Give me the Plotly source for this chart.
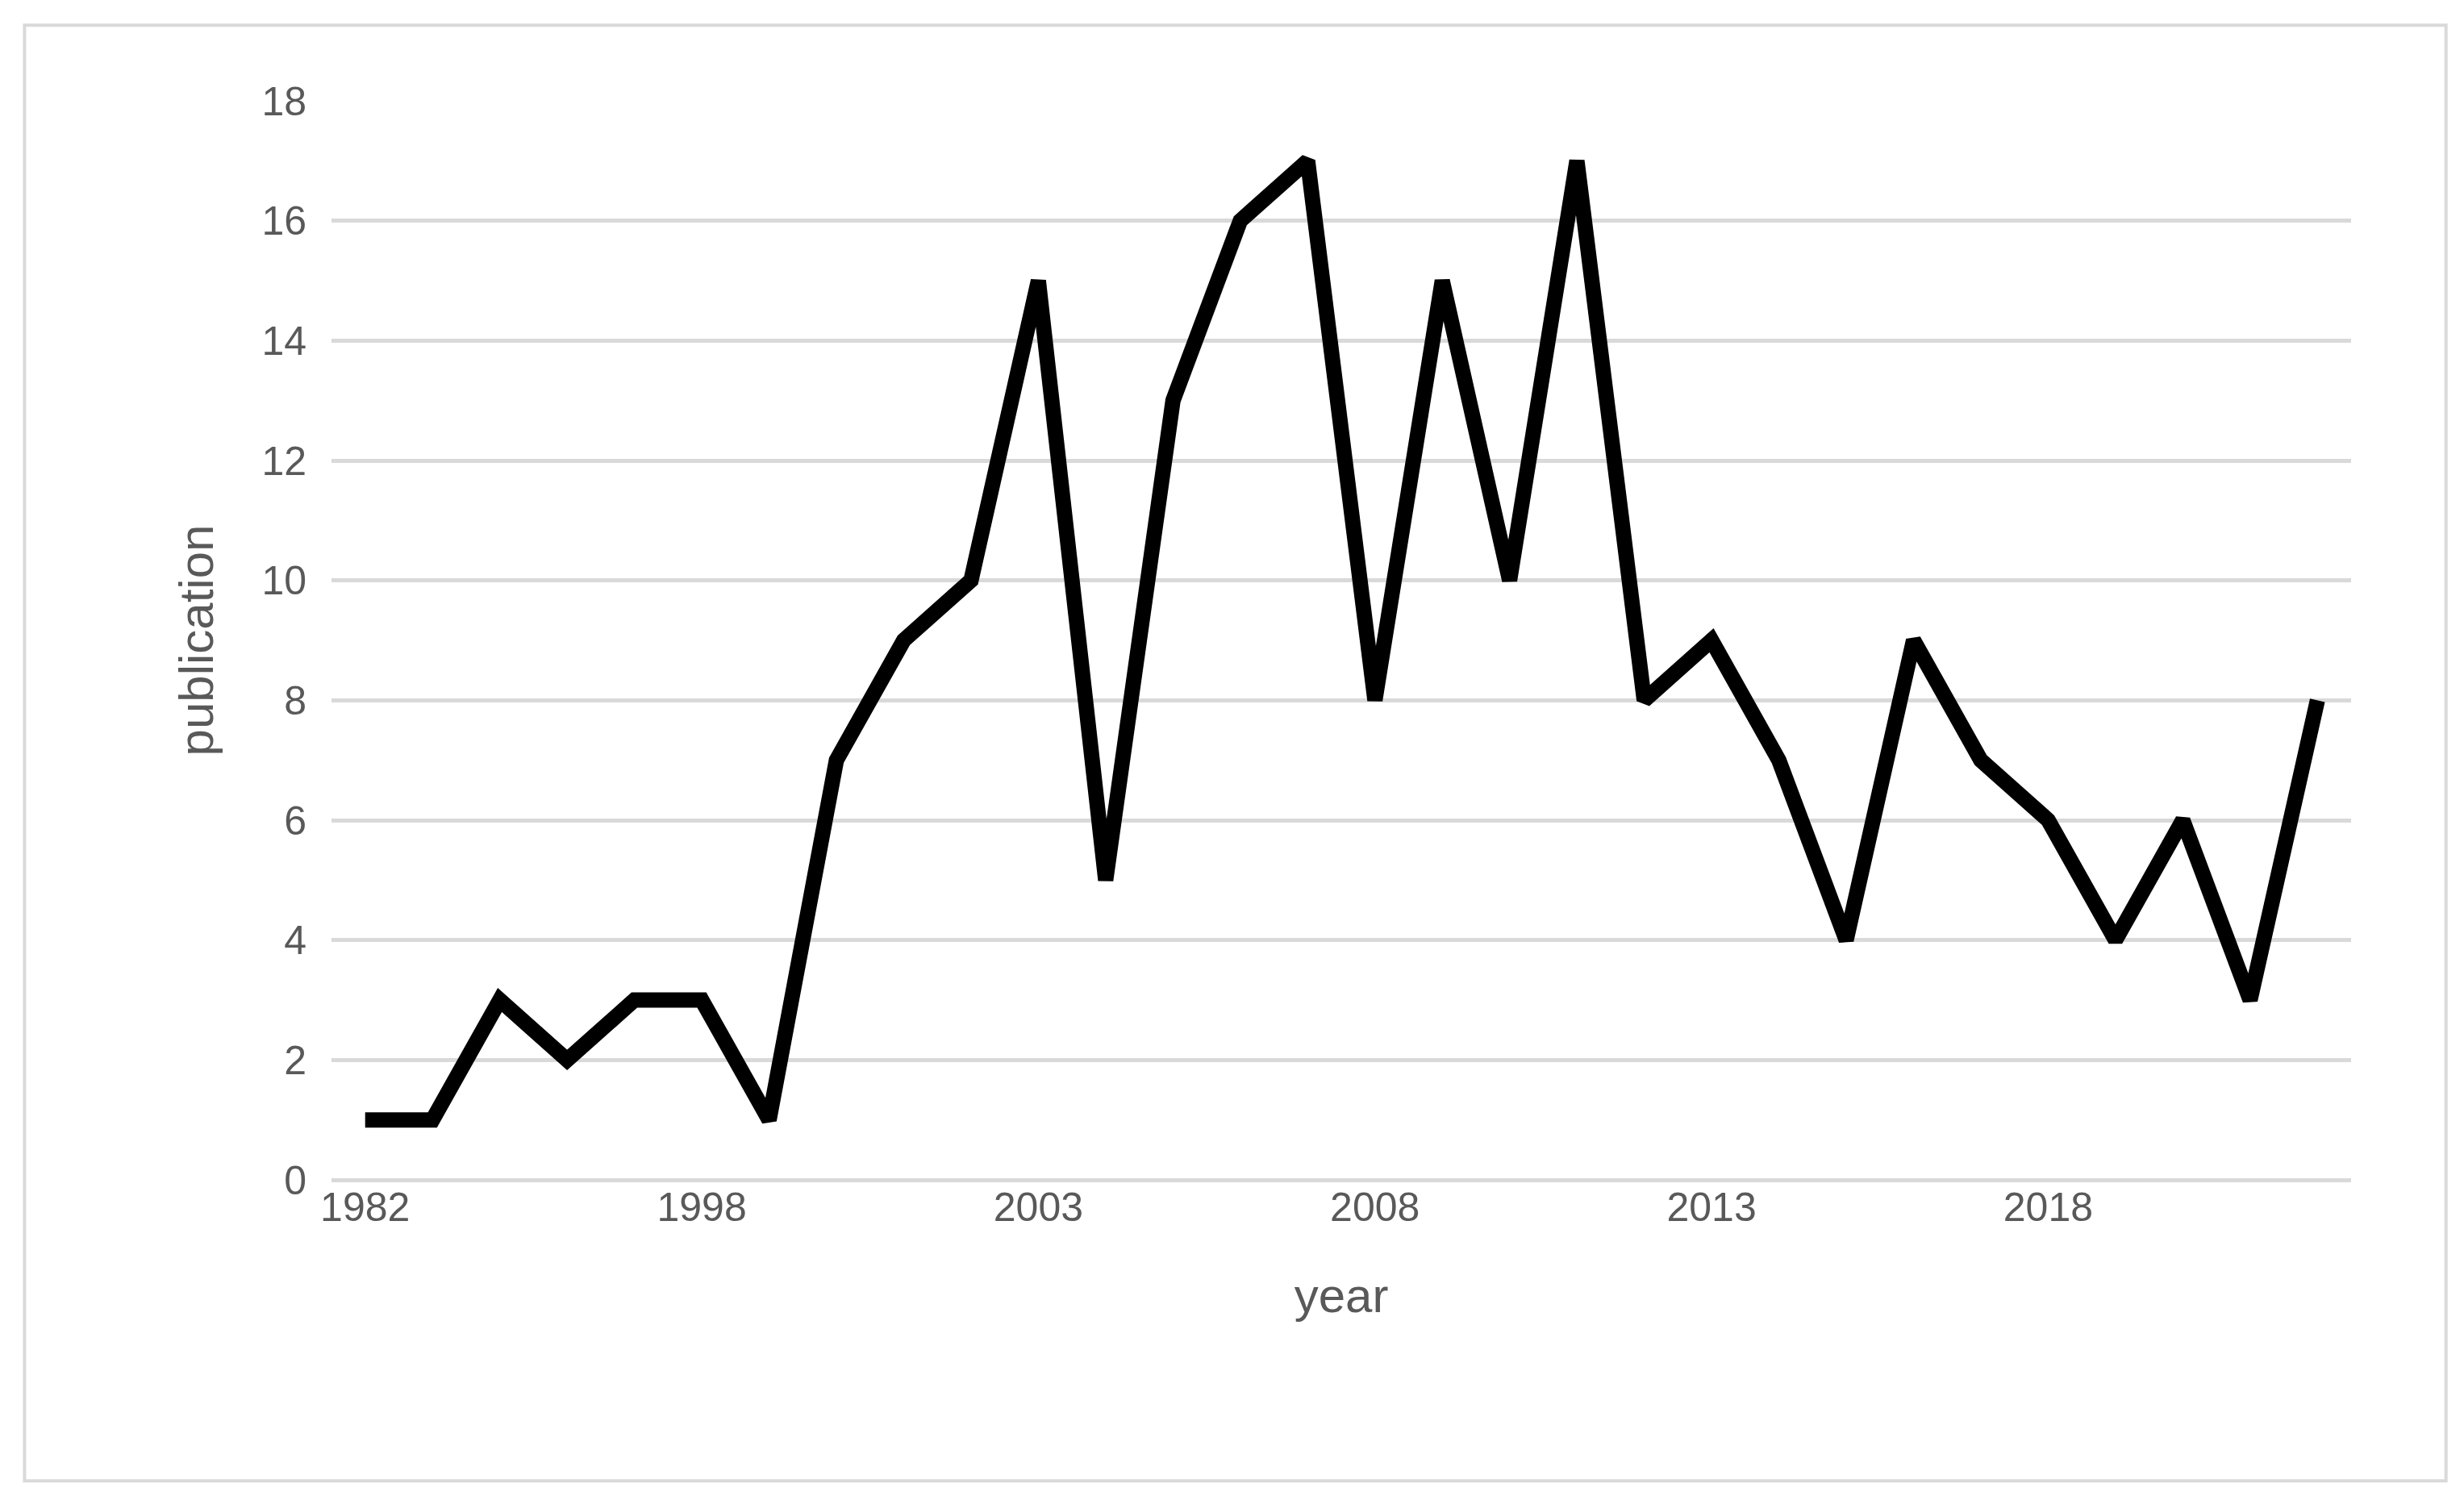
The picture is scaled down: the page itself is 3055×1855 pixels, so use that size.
import plotly.graph_objects as go

years = ["1982", "1986", "1990", "1993", "1995", "1998", "1999", "2000", "2001", "2002",
         "2003", "2004", "2005", "2006", "2007", "2008", "2009", "2010", "2011", "2012",
         "2013", "2014", "2015", "2016", "2017", "2018", "2019", "2020", "2021", "2022"]
publications = [1, 1, 3, 2, 3, 3, 1, 7, 9, 10, 15, 5, 13, 16, 17, 8, 15, 10, 17, 8,
                9, 7, 4, 9, 7, 6, 4, 6, 3, 8]
tick_labels = ["1982", "1998", "2003", "2008", "2013", "2018"]

fig = go.Figure(go.Scatter(x=years, y=publications, mode="lines",
                           line=dict(color="black", width=19, shape="linear"),
                           hoverinfo="x+y"))
fig.update_layout(
    width=3055, height=1855, paper_bgcolor="white", plot_bgcolor="white",
    margin=dict(l=403, r=148, t=117, b=400),
    font=dict(family="Liberation Sans, Arial", color="#595959", size=50),
    showlegend=False,
    xaxis=dict(type="category", range=[-0.5, 29.5], tickmode="array",
               tickvals=tick_labels, ticktext=tick_labels, showgrid=False,
               showline=False, ticks="", tickfont=dict(size=50),
               title=dict(text="year", font=dict(size=60), standoff=60)),
    yaxis=dict(range=[0, 18], dtick=2, showgrid=True, gridcolor="#d9d9d9", gridwidth=5,
               zeroline=True, zerolinecolor="#d9d9d9", zerolinewidth=5,
               ticks="", tickfont=dict(size=50), ticklabelstandoff=30,
               title=dict(text="publication", font=dict(size=60), standoff=40)),
    shapes=[dict(type="rect", xref="paper", yref="paper", x0=-0.152, x1=1.047,
                 y0=-0.279, y1=1.070, line=dict(color="#d9d9d9", width=4), layer="below")],
)
fig.write_html("out.html")
